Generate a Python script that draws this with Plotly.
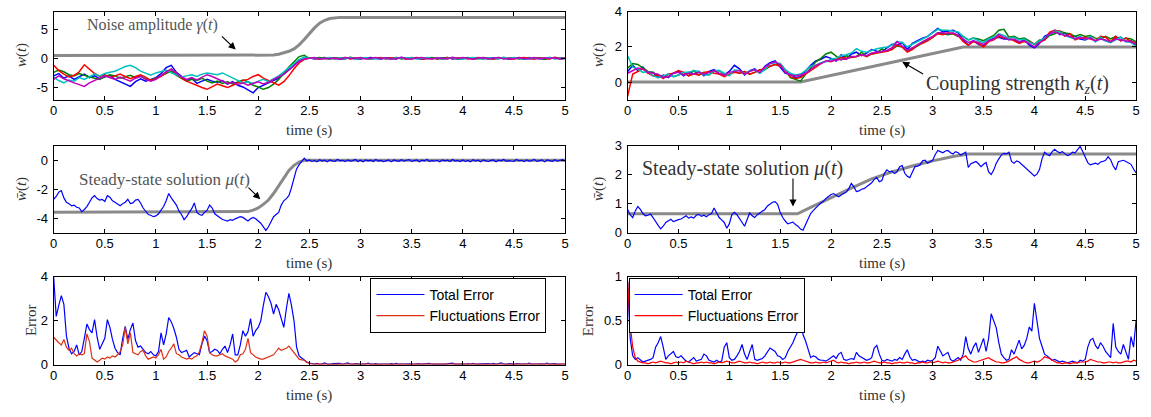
import numpy as np
import plotly.graph_objects as go

# ---------------------------------------------------------------------------
# Sampling steps of the stored trajectories (seconds)
DT_COARSE = 0.05
DT_FINE = 0.025

# ---------------------------------------------------------------------------
# Panel (a): w(t) of five oscillators under a noise-amplitude step
tl_blue = [
    -3.0, -2.6, -3.4, -3.0, -3.6, -3.1, -2.7, -3.3, -3.0, -3.5,
    -3.2, -2.9, -3.6, -4.0, -4.4, -4.8, -4.0, -3.5, -3.9, -3.6,
    -3.3, -2.6, -1.6, -1.2, -2.4, -3.1, -3.8, -3.4, -4.3, -3.9,
    -3.6, -3.9, -4.1, -3.8, -4.4, -4.0, -4.6, -4.9, -5.4, -5.9,
    -5.0, -4.6, -4.1, -3.7, -3.4, -2.7, -2.0, -1.3, -0.5, -0.1,
    0.1, -0.12, 0.05, 0.15, -0.06, 0.1, -0.14, 0.04, 0.12, -0.08,
    -0.1, 0.06, 0.14, -0.05, -0.13, 0.09, 0.02, -0.11, 0.16, -0.04,
    0.12, -0.03, -0.15, 0.07, 0.1, -0.09, 0.05, 0.13, -0.12, 0.03,
    -0.06, 0.11, -0.08, 0.02, 0.15, -0.13, 0.08, -0.02, 0.1, -0.15,
    0.04, 0.14, -0.1, -0.07, 0.09, 0.01, -0.16, 0.12, -0.05, 0.07,
    0.05,
]
tl_green = [
    -2.4, -2.0, -2.3, -2.8, -3.0, -2.6, -2.9, -3.2, -3.4, -3.6,
    -3.1, -2.8, -3.0, -3.4, -3.2, -2.9, -3.3, -3.0, -3.5, -3.7,
    -3.4, -3.0, -2.6, -2.2, -2.9, -3.4, -3.9, -3.6, -3.8, -3.4,
    -3.9, -4.2, -3.9, -4.3, -4.0, -4.4, -4.1, -3.7, -4.0, -4.6,
    -4.9, -5.3, -5.0, -4.4, -3.6, -2.5, -1.5, -0.6, 0.3, 0.5,
    0.0, 0.06, 0.14, -0.05, -0.13, 0.09, 0.02, -0.11, 0.16, -0.04,
    0.12, -0.03, -0.15, 0.07, 0.1, -0.09, 0.05, 0.13, -0.12, 0.03,
    -0.06, 0.11, -0.08, 0.02, 0.15, -0.13, 0.08, -0.02, 0.1, -0.15,
    0.04, 0.14, -0.1, -0.07, 0.09, 0.01, -0.16, 0.12, -0.05, 0.07,
    0.08, -0.12, 0.05, 0.15, -0.06, 0.1, -0.14, 0.04, 0.12, -0.08,
    -0.05,
]
tl_red = [
    -1.2, -2.1, -2.7, -3.2, -2.9, -2.3, -1.1, -1.8, -2.6, -3.1,
    -2.8, -3.3, -3.0, -2.7, -3.1, -3.5, -3.1, -2.8, -3.2, -3.8,
    -3.5, -3.1, -2.4, -1.8, -2.6, -3.4, -3.9, -4.3, -4.6, -5.0,
    -5.3, -4.8, -4.4, -4.7, -5.0, -4.6, -4.2, -3.8, -3.6, -3.1,
    -2.8, -3.4, -3.8, -4.2, -4.6, -4.0, -3.0, -1.8, -0.8, -0.2,
    0.05, -0.03, -0.15, 0.07, 0.1, -0.09, 0.05, 0.13, -0.12, 0.03,
    -0.06, 0.11, -0.08, 0.02, 0.15, -0.13, 0.08, -0.02, 0.1, -0.15,
    0.04, 0.14, -0.1, -0.07, 0.09, 0.01, -0.16, 0.12, -0.05, 0.07,
    0.08, -0.12, 0.05, 0.15, -0.06, 0.1, -0.14, 0.04, 0.12, -0.08,
    -0.1, 0.06, 0.14, -0.05, -0.13, 0.09, 0.02, -0.11, 0.16, -0.04,
    0.1,
]
tl_cyan = [
    -3.2, -3.8, -4.2, -3.7, -3.9, -3.3, -3.6, -3.1, -2.7, -3.0,
    -2.6, -2.4, -2.2, -1.8, -1.4, -1.2, -1.6, -2.2, -2.6, -2.9,
    -2.5, -2.2, -2.0, -2.5, -2.9, -3.2, -3.0, -2.8, -3.1, -2.7,
    -2.5, -2.6, -2.8, -2.5, -2.9, -3.4, -3.8, -4.2, -4.0, -4.3,
    -3.9, -3.6, -4.0, -3.5, -3.0, -2.3, -1.6, -0.9, -0.2, 0.2,
    0.0, 0.11, -0.08, 0.02, 0.15, -0.13, 0.08, -0.02, 0.1, -0.15,
    0.04, 0.14, -0.1, -0.07, 0.09, 0.01, -0.16, 0.12, -0.05, 0.07,
    0.08, -0.12, 0.05, 0.15, -0.06, 0.1, -0.14, 0.04, 0.12, -0.08,
    -0.1, 0.06, 0.14, -0.05, -0.13, 0.09, 0.02, -0.11, 0.16, -0.04,
    0.12, -0.03, -0.15, 0.07, 0.1, -0.09, 0.05, 0.13, -0.12, 0.03,
    -0.02,
]
tl_magenta = [
    -3.6, -3.0, -3.5, -3.9, -4.2, -4.5, -4.8, -4.2, -3.8, -3.4,
    -3.0, -3.3, -3.6, -3.2, -3.5, -3.9, -3.4, -3.1, -3.6, -3.9,
    -3.6, -3.0, -2.3, -1.9, -2.5, -3.2, -3.6, -3.3, -3.7, -3.2,
    -2.8, -3.1, -3.5, -3.9, -4.3, -4.1, -4.5, -4.2, -4.6, -4.3,
    -4.0, -4.4, -4.1, -3.6, -3.2, -2.7, -2.0, -1.2, -0.5, -0.1,
    0.0, 0.14, -0.1, -0.07, 0.09, 0.01, -0.16, 0.12, -0.05, 0.07,
    0.08, -0.12, 0.05, 0.15, -0.06, 0.1, -0.14, 0.04, 0.12, -0.08,
    -0.1, 0.06, 0.14, -0.05, -0.13, 0.09, 0.02, -0.11, 0.16, -0.04,
    0.12, -0.03, -0.15, 0.07, 0.1, -0.09, 0.05, 0.13, -0.12, 0.03,
    -0.06, 0.11, -0.08, 0.02, 0.15, -0.13, 0.08, -0.02, 0.1, -0.15,
    0.0,
]
gamma_t = [0.0, 2.1, 2.15, 2.2, 2.25, 2.3, 2.35, 2.4, 2.45, 2.5, 2.55, 2.6,
           2.65, 2.7, 2.75, 2.8, 5.0]
gamma_v = [0.5, 0.5, 0.55, 0.7, 0.9, 1.2, 1.6, 2.3, 3.2, 4.2, 5.2, 6.0,
           6.5, 6.8, 6.95, 7.0, 7.0]

# ---------------------------------------------------------------------------
# Panel (b): w(t) of five oscillators under a coupling-strength ramp
tr_blue = [
    0.6, 0.95, 0.65, 0.85, 0.5, 0.55, 0.25, 0.4, 0.25, 0.5,
    0.6, 0.35, 0.55, 0.45, 0.6, 0.35, 0.6, 0.7, 0.45, 0.4,
    0.6, 0.95, 0.75, 0.4, 0.65, 0.75, 0.5, 0.9, 1.1, 1.2,
    0.85, 0.5, 0.45, 0.25, 0.3, 0.65, 0.95, 1.2, 1.3, 1.45,
    1.35, 1.2, 1.55, 1.3, 1.6, 1.7, 1.5, 1.65, 1.85, 1.75,
    1.7, 1.95, 2.15, 2.1, 2.25, 1.85, 2.2, 2.35, 2.5, 2.6,
    2.8, 3.05, 2.85, 2.9, 2.95, 2.8, 2.4, 2.1, 2.35, 2.15,
    2.05, 2.35, 2.5, 2.55, 2.45, 2.45, 2.4, 2.25, 2.4, 2.1,
    1.95, 2.2, 2.6, 2.75, 2.95, 2.7, 2.8, 2.55, 2.6, 2.45,
    2.4, 2.55, 2.3, 2.5, 2.35, 2.25, 2.5, 2.55, 2.3, 2.35,
    2.1,
]
tr_green = [
    0.8, 1.05, 1.0, 0.8, 0.6, 0.55, 0.35, 0.3, 0.45, 0.3,
    0.4, 0.55, 0.35, 0.65, 0.4, 0.55, 0.4, 0.6, 0.65, 0.45,
    0.4, 0.6, 0.5, 0.6, 0.45, 0.55, 0.7, 0.7, 0.9, 1.0,
    1.05, 0.7, 0.25, 0.15, 0.05, 0.45, 0.8, 1.15, 1.35, 1.6,
    1.7, 1.45, 1.25, 1.5, 1.4, 1.45, 1.7, 1.45, 1.6, 1.65,
    1.9, 1.75, 1.9, 2.05, 2.0, 1.75, 1.9, 2.05, 2.25, 2.4,
    2.55, 2.8, 2.75, 2.7, 2.75, 2.6, 2.6, 2.4, 2.5, 2.45,
    2.35, 2.5, 2.65, 2.95, 3.0, 2.55, 2.6, 2.45, 2.5, 2.35,
    2.15, 2.4, 2.4, 2.65, 2.75, 2.9, 2.8, 2.75, 2.6, 2.7,
    2.6, 2.65, 2.5, 2.45, 2.6, 2.45, 2.6, 2.35, 2.5, 2.45,
    2.3,
]
tr_red = [
    -0.8, 0.45, 0.6, 0.75, 0.5, 0.35, 0.4, 0.2, 0.45, 0.5,
    0.65, 0.55, 0.35, 0.45, 0.4, 0.55, 0.6, 0.5, 0.45, 0.3,
    0.45, 0.55, 0.5, 0.6, 0.45, 0.55, 0.7, 0.75, 0.9, 1.0,
    0.9, 0.7, 0.3, 0.2, 0.25, 0.45, 0.7, 0.9, 1.05, 1.2,
    1.15, 1.3, 1.4, 1.35, 1.4, 1.45, 1.55, 1.45, 1.6, 1.65,
    1.7, 1.75, 1.85, 2.1, 2.0, 1.7, 1.85, 2.1, 2.2, 2.35,
    2.55, 2.75, 2.7, 2.8, 2.75, 2.65, 2.3, 2.1, 2.3, 2.2,
    2.0, 2.3, 2.4, 2.6, 2.5, 2.55, 2.35, 2.2, 2.3, 2.3,
    2.15, 2.25, 2.4, 2.85, 2.95, 2.9, 2.6, 2.75, 2.4, 2.5,
    2.55, 2.45, 2.35, 2.6, 2.55, 2.3, 2.6, 2.35, 2.5, 2.3,
    2.25,
]
tr_cyan = [
    1.5, 0.85, 0.75, 0.55, 0.6, 0.35, 0.25, 0.35, 0.45, 0.3,
    0.4, 0.55, 0.55, 0.65, 0.6, 0.4, 0.4, 0.65, 0.65, 0.5,
    0.35, 0.7, 0.65, 0.45, 0.65, 0.7, 0.5, 0.7, 1.05, 1.1,
    1.05, 0.7, 0.5, 0.4, 0.45, 0.65, 0.9, 0.95, 1.1, 1.15,
    1.3, 1.35, 1.5, 1.55, 1.65, 1.9, 1.75, 1.7, 1.8, 1.9,
    1.95, 2.0, 2.1, 2.3, 2.25, 2.0, 2.15, 2.3, 2.45, 2.6,
    2.8, 3.0, 2.95, 2.95, 2.9, 2.85, 2.6, 2.4, 2.5, 2.35,
    2.25, 2.45, 2.55, 2.75, 2.65, 2.5, 2.55, 2.4, 2.45, 2.25,
    2.15, 2.35, 2.55, 2.75, 2.9, 2.85, 2.65, 2.55, 2.45, 2.6,
    2.4, 2.6, 2.3, 2.55, 2.35, 2.25, 2.4, 2.55, 2.3, 2.25,
    2.05,
]
tr_magenta = [
    0.5, 0.65, 0.8, 0.75, 0.55, 0.5, 0.45, 0.25, 0.3, 0.5,
    0.55, 0.4, 0.5, 0.45, 0.55, 0.45, 0.55, 0.65, 0.5, 0.4,
    0.55, 0.6, 0.65, 0.45, 0.6, 0.7, 0.55, 0.85, 1.05, 1.15,
    1.0, 0.55, 0.4, 0.35, 0.4, 0.5, 0.75, 0.95, 1.05, 1.2,
    1.2, 1.25, 1.3, 1.3, 1.45, 1.45, 1.55, 1.5, 1.65, 1.7,
    1.75, 1.8, 1.95, 2.3, 2.05, 1.8, 1.95, 2.15, 2.3, 2.45,
    2.6, 2.8, 2.8, 2.75, 2.8, 2.65, 2.45, 2.25, 2.35, 2.25,
    2.15, 2.35, 2.45, 2.7, 2.55, 2.4, 2.45, 2.3, 2.35, 2.15,
    2.0, 2.25, 2.45, 2.75, 2.85, 2.75, 2.65, 2.6, 2.45, 2.55,
    2.45, 2.5, 2.35, 2.45, 2.4, 2.3, 2.45, 2.4, 2.35, 2.3,
    2.15,
]
kappa_t = [0.0, 1.7, 3.3, 5.0]
kappa_v = [0.0, 0.0, 2.0, 2.0]

# ---------------------------------------------------------------------------
# Panel (c): mean field w-bar(t) and steady-state mu(t), noise step
ml_wbar = [
    -2.7, -2.5, -2.2, -2.1, -2.6, -2.9, -3.0, -3.15, -3.1, -3.25,
    -3.3, -3.55, -3.4, -3.2, -2.9, -2.6, -2.45, -2.65, -2.75, -2.7,
    -2.85, -2.45, -2.55, -2.8, -2.9, -3.05, -3.15, -3.0, -2.9, -2.7,
    -3.0, -2.95, -2.75, -2.7, -2.95, -3.3, -3.5, -3.75, -3.8, -3.9,
    -3.85, -3.7, -3.45, -3.2, -2.8, -2.3, -2.6, -2.85, -3.1, -3.5,
    -3.75, -4.1, -3.9, -3.6, -3.35, -2.95, -3.6, -3.75, -3.8, -3.6,
    -3.45, -3.1, -3.3, -3.7, -3.85, -3.95, -4.1, -4.15, -4.2, -4.1,
    -4.15, -4.05, -4.0, -3.9, -3.95, -4.1, -4.2, -4.05, -3.95, -4.05,
    -4.2, -4.35, -4.6, -4.85, -4.6, -4.2, -3.9, -3.75, -3.6, -3.1,
    -2.8, -2.65, -2.45, -1.9, -1.2, -0.6, -0.3, -0.1, 0.15, -0.05,
    0.02, -0.08, -0.01, -0.11, 0.04, -0.05, 0.01, -0.1, 0.03, -0.04,
    -0.07, 0.05, -0.04, 0.0, -0.09, 0.03, -0.06, -0.02, 0.06, -0.08,
    0.0, -0.1, 0.03, -0.04, 0.01, -0.08, 0.05, -0.05, -0.01, -0.09,
    -0.04, 0.03, -0.11, 0.02, -0.02, -0.07, 0.04, -0.06, 0.0, 0.05,
    -0.08, -0.01, 0.02, -0.1, 0.01, -0.04, 0.06, -0.07, -0.02, -0.05,
    0.0, -0.1, 0.03, -0.04, 0.01, -0.08, 0.05, -0.05, -0.01, -0.09,
    0.02, -0.08, -0.01, -0.11, 0.04, -0.05, 0.01, -0.1, 0.03, -0.04,
    -0.08, -0.01, 0.02, -0.1, 0.01, -0.04, 0.06, -0.07, -0.02, -0.05,
    -0.07, 0.05, -0.04, 0.0, -0.09, 0.03, -0.06, -0.02, 0.06, -0.08,
    -0.04, 0.03, -0.11, 0.02, -0.02, -0.07, 0.04, -0.06, 0.0, 0.05,
    -0.05,
]
mu_left_t = [0.0, 1.85, 1.9, 1.95, 2.0, 2.05, 2.1, 2.15, 2.2, 2.25, 2.3,
             2.35, 2.4, 2.45, 5.0]
mu_left_v = [-3.6, -3.6, -3.55, -3.45, -3.3, -3.05, -2.75, -2.3, -1.75,
             -1.2, -0.7, -0.35, -0.12, 0.0, 0.0]

# ---------------------------------------------------------------------------
# Panel (d): mean field w-bar(t) and steady-state mu(t), coupling ramp
mr_wbar = [
    0.80, 0.62, 0.52, 0.75, 0.90, 0.80, 0.66, 0.58, 0.60, 0.64,
    0.52, 0.36, 0.25, 0.13, 0.22, 0.35, 0.40, 0.46, 0.38, 0.42,
    0.45, 0.47, 0.52, 0.58, 0.50, 0.54, 0.50, 0.60, 0.63, 0.56,
    0.60, 0.55, 0.62, 0.66, 0.85, 0.70, 0.52, 0.44, 0.35, 0.15,
    0.30, 0.62, 0.70, 0.62, 0.50, 0.35, 0.22, 0.45, 0.68, 0.58,
    0.52, 0.62, 0.68, 0.74, 0.80, 0.92, 1.00, 1.05, 1.07, 0.98,
    0.70, 0.52, 0.40, 0.30, 0.33, 0.36, 0.28, 0.22, 0.12, 0.08,
    0.28, 0.50, 0.66, 0.76, 0.86, 0.94, 1.02, 1.08, 1.18, 1.25,
    1.32, 1.35, 1.30, 1.24, 1.30, 1.36, 1.40, 1.52, 1.70, 1.58,
    1.42, 1.44, 1.50, 1.52, 1.58, 1.66, 1.72, 1.84, 1.90, 1.76,
    1.80, 2.05, 2.17, 2.10, 2.12, 2.04, 2.10, 2.28, 2.32, 2.05,
    1.95, 1.90, 2.10, 2.28, 2.30, 2.34, 2.48, 2.50, 2.40, 2.44,
    2.50, 2.70, 2.84, 2.80, 2.76, 2.82, 2.84, 2.76, 2.72, 2.80,
    2.76, 2.68, 2.72, 2.78, 2.25, 2.38, 2.42, 2.46, 2.38, 2.28,
    2.36, 2.42, 2.10, 2.01, 2.16, 2.40, 2.55, 2.68, 2.74, 2.72,
    2.78, 2.46, 2.40, 2.48, 2.44, 2.36, 2.30, 2.22, 2.14, 2.06,
    1.96, 2.02, 2.18, 2.55, 2.78, 2.70, 2.66, 2.80, 2.88, 2.80,
    2.76, 2.80, 2.74, 2.66, 2.70, 2.78, 2.76, 2.88, 2.98, 2.80,
    2.60, 2.42, 2.34, 2.38, 2.40, 2.36, 2.44, 2.46, 2.50, 2.62,
    2.52, 2.30, 2.17, 2.45, 2.48, 2.50, 2.46, 2.40, 2.36, 2.20,
    2.06,
]
mu_right_t = [0.0, 1.67, 1.8, 2.0, 2.2, 2.4, 2.6, 2.8, 3.0, 3.2, 3.35, 5.0]
mu_right_v = [0.65, 0.65, 0.87, 1.21, 1.54, 1.86, 2.1, 2.3, 2.48, 2.63, 2.72, 2.72]

# ---------------------------------------------------------------------------
# Panel (e): errors, noise step
bl_total = [
    4.0, 2.2, 2.7, 3.15, 2.75, 1.3, 0.75, 0.5, 0.6, 0.9,
    0.45, 0.6, 1.2, 1.85, 1.6, 1.45, 2.05, 1.25, 0.7, 0.95,
    1.2, 2.05, 1.7, 1.15, 0.75, 0.55, 0.45, 1.2, 1.75, 1.15,
    1.6, 1.9, 1.1, 0.8, 0.85, 0.7, 0.55, 0.5, 0.6, 0.45,
    0.4, 0.6, 1.45, 0.9, 1.4, 2.15, 1.95, 1.65, 1.25, 0.7,
    0.55, 0.6, 0.65, 0.35, 0.45, 0.55, 0.5, 0.45, 0.95, 1.3,
    1.1, 0.55, 0.6, 0.7, 0.65, 0.5, 0.7, 0.85, 0.55, 0.9,
    1.4, 0.45, 0.45, 0.9, 1.55, 1.3, 1.5, 2.1, 1.3, 1.55,
    1.7, 2.0, 2.7, 3.3, 3.1, 2.8, 2.3, 2.75, 2.5, 2.15,
    1.7, 2.55, 3.25, 2.7, 2.0, 0.8, 0.4, 0.3, 0.2, 0.12,
    0.07, 0.05, 0.03, 0.06, 0.02, 0.04, 0.08, 0.03, 0.02, 0.05,
    0.05, 0.03, 0.06, 0.02, 0.04, 0.08, 0.03, 0.02, 0.05, 0.03,
    0.02, 0.04, 0.03, 0.07, 0.02, 0.03, 0.05, 0.02, 0.04, 0.03,
    0.03, 0.02, 0.05, 0.03, 0.06, 0.02, 0.03, 0.04, 0.02, 0.05,
    0.04, 0.02, 0.03, 0.05, 0.02, 0.04, 0.03, 0.06, 0.02, 0.03,
    0.02, 0.05, 0.03, 0.02, 0.04, 0.03, 0.07, 0.02, 0.03, 0.04,
    0.03, 0.02, 0.05, 0.03, 0.06, 0.02, 0.03, 0.04, 0.02, 0.05,
    0.05, 0.03, 0.06, 0.02, 0.04, 0.08, 0.03, 0.02, 0.05, 0.03,
    0.02, 0.05, 0.03, 0.02, 0.04, 0.03, 0.07, 0.02, 0.03, 0.04,
    0.02, 0.04, 0.03, 0.07, 0.02, 0.03, 0.05, 0.02, 0.04, 0.03,
    0.03,
]
bl_fluct = [
    1.25, 1.1, 1.0, 0.9, 1.15, 0.8, 0.65, 0.75, 0.5, 0.4,
    0.5, 0.45, 0.5, 1.4, 1.05, 0.3, 0.2, 0.12, 0.2, 0.3,
    0.25, 0.35, 0.3, 0.4, 0.35, 0.45, 0.6, 0.9, 1.7, 0.95,
    1.45, 0.55, 0.5, 0.45, 0.6, 0.65, 0.4, 0.25, 0.3, 0.35,
    0.3, 0.45, 0.7, 0.25, 0.35, 0.6, 0.75, 0.95, 0.5, 0.45,
    0.35, 0.3, 0.25, 0.3, 0.25, 0.35, 0.4, 0.6, 1.0, 1.55,
    1.3, 0.55, 0.45, 0.4, 0.4, 0.45, 0.5, 0.4, 0.35, 0.3,
    0.25, 0.12, 0.2, 0.45, 0.5, 0.7, 1.2, 0.55, 0.45, 0.35,
    0.3, 0.25, 0.25, 0.3, 0.35, 0.4, 0.45, 0.6, 0.75, 0.65,
    0.7, 0.75, 0.85, 0.7, 0.55, 0.4, 0.25, 0.22, 0.2, 0.1,
    0.05, 0.03, 0.02, 0.03, 0.01, 0.02, 0.03, 0.02, 0.01, 0.02,
    0.02, 0.01, 0.03, 0.02, 0.02, 0.01, 0.02, 0.03, 0.02, 0.01,
    0.01, 0.02, 0.02, 0.03, 0.01, 0.02, 0.01, 0.02, 0.03, 0.02,
    0.02, 0.03, 0.01, 0.02, 0.02, 0.01, 0.03, 0.02, 0.01, 0.02,
    0.01, 0.02, 0.03, 0.01, 0.02, 0.02, 0.01, 0.02, 0.02, 0.03,
    0.02, 0.01, 0.03, 0.02, 0.02, 0.01, 0.02, 0.03, 0.02, 0.01,
    0.01, 0.02, 0.02, 0.03, 0.01, 0.02, 0.01, 0.02, 0.03, 0.02,
    0.02, 0.03, 0.01, 0.02, 0.02, 0.01, 0.03, 0.02, 0.01, 0.02,
    0.01, 0.02, 0.03, 0.01, 0.02, 0.02, 0.01, 0.02, 0.02, 0.03,
    0.01, 0.02, 0.02, 0.03, 0.01, 0.02, 0.01, 0.02, 0.03, 0.02,
    0.02,
]

# ---------------------------------------------------------------------------
# Panel (f): errors, coupling ramp
br_total = [
    0.95, 0.3, 0.1, 0.06, 0.08, 0.05, 0.03, 0.04, 0.05, 0.06,
    0.08, 0.2, 0.25, 0.32, 0.2, 0.06, 0.1, 0.12, 0.15, 0.09,
    0.08, 0.1, 0.07, 0.04, 0.03, 0.06, 0.08, 0.04, 0.05, 0.06,
    0.12, 0.1, 0.05, 0.04, 0.03, 0.05, 0.03, 0.04, 0.2, 0.25,
    0.08, 0.05, 0.06, 0.1, 0.15, 0.23, 0.12, 0.06, 0.15, 0.23,
    0.06, 0.05, 0.06, 0.07, 0.1, 0.14, 0.19, 0.17, 0.15, 0.1,
    0.09, 0.06, 0.08, 0.15, 0.2, 0.25, 0.32, 0.38, 0.5, 0.34,
    0.27, 0.18, 0.08, 0.1, 0.09, 0.06, 0.05, 0.05, 0.04, 0.06,
    0.08, 0.1, 0.07, 0.12, 0.14, 0.06, 0.05, 0.06, 0.07, 0.06,
    0.14, 0.1, 0.08, 0.06, 0.05, 0.06, 0.08, 0.19, 0.22, 0.12,
    0.05, 0.04, 0.06, 0.05, 0.04, 0.06, 0.05, 0.08, 0.06, 0.12,
    0.17, 0.09, 0.05, 0.06, 0.04, 0.03, 0.04, 0.03, 0.05, 0.04,
    0.05, 0.08, 0.21, 0.15, 0.1, 0.12, 0.14, 0.06, 0.04, 0.06,
    0.08, 0.05, 0.12, 0.32, 0.18, 0.12, 0.2, 0.25, 0.14, 0.22,
    0.3, 0.15, 0.3, 0.58, 0.5, 0.42, 0.25, 0.12, 0.08, 0.05,
    0.06, 0.17, 0.12, 0.2, 0.28, 0.18, 0.22, 0.3, 0.43, 0.38,
    0.7, 0.5, 0.3, 0.21, 0.12, 0.1, 0.08, 0.05, 0.06, 0.04,
    0.03, 0.04, 0.03, 0.02, 0.03, 0.04, 0.03, 0.02, 0.05, 0.04,
    0.06, 0.2, 0.28, 0.3, 0.22, 0.18, 0.25, 0.21, 0.15, 0.11,
    0.08, 0.47, 0.2, 0.15, 0.12, 0.23, 0.15, 0.06, 0.32, 0.2,
    0.5,
]
br_fluct = [
    0.95, 0.45, 0.2, 0.08, 0.04, 0.03, 0.02, 0.02, 0.01, 0.02,
    0.03, 0.02, 0.03, 0.04, 0.03, 0.02, 0.02, 0.01, 0.02, 0.03,
    0.02, 0.03, 0.02, 0.04, 0.03, 0.02, 0.01, 0.02, 0.02, 0.03,
    0.02, 0.03, 0.02, 0.02, 0.01, 0.02, 0.03, 0.02, 0.03, 0.04,
    0.03, 0.02, 0.02, 0.03, 0.04, 0.03, 0.02, 0.02, 0.03, 0.02,
    0.02, 0.01, 0.02, 0.03, 0.02, 0.02, 0.03, 0.02, 0.02, 0.03,
    0.02, 0.02, 0.03, 0.02, 0.02, 0.03, 0.04, 0.05, 0.06, 0.05,
    0.04, 0.03, 0.02, 0.02, 0.03, 0.02, 0.02, 0.03, 0.02, 0.03,
    0.04, 0.05, 0.03, 0.02, 0.03, 0.02, 0.02, 0.01, 0.02, 0.02,
    0.03, 0.02, 0.02, 0.03, 0.02, 0.02, 0.03, 0.04, 0.03, 0.02,
    0.02, 0.03, 0.02, 0.02, 0.01, 0.02, 0.02, 0.03, 0.02, 0.02,
    0.03, 0.02, 0.02, 0.01, 0.02, 0.02, 0.03, 0.02, 0.02, 0.03,
    0.02, 0.03, 0.04, 0.03, 0.02, 0.03, 0.02, 0.02, 0.03, 0.04,
    0.05, 0.07, 0.09, 0.1, 0.06, 0.04, 0.03, 0.03, 0.04, 0.05,
    0.06, 0.07, 0.08, 0.06, 0.04, 0.03, 0.03, 0.02, 0.02, 0.03,
    0.04, 0.06, 0.08, 0.09, 0.06, 0.04, 0.03, 0.02, 0.02, 0.03,
    0.04, 0.03, 0.04, 0.06, 0.09, 0.08, 0.07, 0.05, 0.03, 0.02,
    0.02, 0.01, 0.02, 0.02, 0.01, 0.02, 0.02, 0.02, 0.03, 0.03,
    0.03, 0.04, 0.06, 0.05, 0.04, 0.03, 0.03, 0.02, 0.02, 0.03,
    0.03, 0.02, 0.03, 0.02, 0.02, 0.03, 0.04, 0.04, 0.03, 0.05,
    0.04,
]

# ---------------------------------------------------------------------------
# Tick labels
time_ticks = [0, 0.5, 1, 1.5, 2, 2.5, 3, 3.5, 4, 4.5, 5]
time_labels = ["0", "0.5", "1", "1.5", "2", "2.5", "3", "3.5", "4", "4.5", "5"]
ticks_a, labels_a = [-5, 0, 5], ["-5", "0", "5"]
ticks_b, labels_b = [0, 2, 4], ["0", "2", "4"]
ticks_c, labels_c = [-4, -2, 0], ["-4", "-2", "0"]
ticks_d, labels_d = [0, 1, 2, 3], ["0", "1", "2", "3"]
ticks_e, labels_e = [0, 2, 4], ["0", "2", "4"]
ticks_f, labels_f = [0, 0.5, 1], ["0", "0.5", "1"]

for arr, n in [(tl_blue, 101), (tl_green, 101), (tl_red, 101), (tl_cyan, 101),
               (tl_magenta, 101), (tr_blue, 101), (tr_green, 101), (tr_red, 101),
               (tr_cyan, 101), (tr_magenta, 101), (ml_wbar, 201), (mr_wbar, 201),
               (bl_total, 201), (bl_fluct, 201), (br_total, 201), (br_fluct, 201)]:
    assert len(arr) == n, (len(arr), n)


def time_of(values, dt):
    return dt * np.arange(len(values))


# ---------------------------------------------------------------------------
# Colours (MATLAB default line colours)
BLUE = "#0000ff"
GREEN = "#008000"
RED = "#ff0000"
CYAN = "#00bfbf"
MAGENTA = "#bf00bf"
GRAY = "#8a8a8a"
ORANGE_RED = "#dc3214"

W, H = 1151, 417
SERIF = "Liberation Serif"
SANS = "Liberation Sans"

COLS = {"L": (50, 565), "R": (628, 1140)}
ROWS = {"top": (5, 96), "mid": (144, 234), "bot": (280, 371)}

panels = {
    1: ("L", "top", [-7.05, 7.95], ticks_a, labels_a),
    2: ("R", "top", [-1, 4], ticks_b, labels_b),
    3: ("L", "mid", [-5, 1], ticks_c, labels_c),
    4: ("R", "mid", [0, 3], ticks_d, labels_d),
    5: ("L", "bot", [0, 4], ticks_e, labels_e),
    6: ("R", "bot", [0, 1], ticks_f, labels_f),
}

fig = go.Figure()


def ax_names(n):
    return ("x" if n == 1 else f"x{n}", "y" if n == 1 else f"y{n}")


def add_line(n, x, y, color, width, name=None, legend=None):
    xa, ya = ax_names(n)
    fig.add_trace(go.Scatter(
        x=x, y=y, mode="lines", xaxis=xa, yaxis=ya,
        line=dict(color=color, width=width),
        name=name, showlegend=legend is not None,
        legend=legend if legend is not None else "legend",
        hoverinfo="skip",
    ))


# (a)
add_line(1, gamma_t, gamma_v, GRAY, 3)
for vals, col in [(tl_blue, BLUE), (tl_green, GREEN), (tl_red, RED),
                  (tl_cyan, CYAN), (tl_magenta, MAGENTA)]:
    add_line(1, time_of(vals, DT_COARSE), vals, col, 1.5)
# (b)
add_line(2, kappa_t, kappa_v, GRAY, 3)
for vals, col in [(tr_blue, BLUE), (tr_green, GREEN), (tr_red, RED),
                  (tr_cyan, CYAN), (tr_magenta, MAGENTA)]:
    add_line(2, time_of(vals, DT_COARSE), vals, col, 1.5)
# (c)
add_line(3, mu_left_t, mu_left_v, GRAY, 3)
add_line(3, time_of(ml_wbar, DT_FINE), ml_wbar, BLUE, 1.2)
# (d)
add_line(4, mu_right_t, mu_right_v, GRAY, 3)
add_line(4, time_of(mr_wbar, DT_FINE), mr_wbar, BLUE, 1.2)
# (e)
add_line(5, time_of(bl_total, DT_FINE), bl_total, BLUE, 1.2, "Total Error", "legend")
add_line(5, time_of(bl_fluct, DT_FINE), bl_fluct, ORANGE_RED, 1.2, "Fluctuations Error", "legend")
# (f)
add_line(6, time_of(br_total, DT_FINE), br_total, BLUE, 1.2, "Total Error", "legend2")
add_line(6, time_of(br_fluct, DT_FINE), br_fluct, RED, 1.2, "Fluctuations Error", "legend2")

layout = dict(
    width=W, height=H, margin=dict(l=0, r=0, t=0, b=0),
    paper_bgcolor="white", plot_bgcolor="white",
    font=dict(family=SANS, size=13, color="black"),
)
axis_common = dict(
    showline=True, linecolor="black", linewidth=1, mirror="allticks",
    ticks="inside", ticklen=4, tickcolor="black", tickwidth=1,
    showgrid=False, zeroline=False,
    tickfont=dict(family=SANS, size=13, color="black"),
)
for n, (col, row, yrange, yt, yl) in panels.items():
    x0, x1 = COLS[col]
    top, bot = ROWS[row]
    xname = "xaxis" if n == 1 else f"xaxis{n}"
    yname = "yaxis" if n == 1 else f"yaxis{n}"
    xa, ya = ax_names(n)
    layout[xname] = dict(axis_common, domain=[x0 / W, x1 / W], anchor=ya,
                         range=[0, 5], tickvals=time_ticks, ticktext=time_labels,
                         ticklabelstandoff=-1)
    layout[yname] = dict(axis_common, domain=[1 - bot / H, 1 - top / H], anchor=xa,
                         range=yrange, tickvals=yt, ticktext=yl,
                         ticklabelstandoff=2)

legend_style = dict(
    bgcolor="white", bordercolor="black", borderwidth=1,
    font=dict(family=SANS, size=14, color="black"),
    xanchor="left", yanchor="top", itemwidth=48, tracegroupgap=0,
    orientation="v",
)
layout["legend"] = dict(legend_style, x=369 / W, y=1 - 281 / H)
layout["legend2"] = dict(legend_style, x=629 / W, y=1 - 281 / H)

annotations = []
# axis titles
x_title_rows = {"top": 128, "mid": 266, "bot": 403}
for n, (col, row, _, _, _) in panels.items():
    x0, x1 = COLS[col]
    annotations.append(dict(
        text="time (s)", xref="paper", yref="paper",
        x=(x0 + x1) / 2 / W, y=1 - x_title_rows[row] / H,
        showarrow=False, font=dict(family=SERIF, size=15, color="#333333"),
        xanchor="center", yanchor="middle"))

y_titles = [
    ("<i>w</i>(<i>t</i>)", 17, 50),
    ("<i>w</i>(<i>t</i>)", 598, 50),
    ("<i>w̄</i>(<i>t</i>)", 17, 189),
    ("<i>w̄</i>(<i>t</i>)", 598, 189),
    ("Error", 27, 325),
    ("Error", 588, 325),
]
for txt, px, py in y_titles:
    annotations.append(dict(
        text=txt, xref="paper", yref="paper", x=px / W, y=1 - py / H,
        textangle=-90, showarrow=False,
        font=dict(family=SERIF, size=15, color="#333333"),
        xanchor="center", yanchor="middle"))

# callouts with arrows
callouts = [
    # (panel, text, text_t, text_v, size, color, head_t, head_v, tail_t, tail_v)
    (1, "Noise amplitude <i>γ</i>(<i>t</i>)", 0.97, 5.7, 16, "#555555",
     1.78, 1.5, 1.63, 4.0),
    (2, "Coupling strength <i>κ</i><sub><i>z</i></sub>(<i>t</i>)", 3.83, -0.15, 20, "#333333",
     2.70, 1.15, 2.92, 0.4),
    (3, "Steady-state solution <i>μ</i>(<i>t</i>)", 1.08, -1.3, 17, "#555555",
     2.02, -2.7, 1.89, -1.78),
    (4, "Steady-state solution <i>μ</i>(<i>t</i>)", 1.13, 2.23, 20, "#333333",
     1.626, 0.9, 1.626, 1.92),
]
for n, txt, tt, tv, size, color, ht, hv, at, av in callouts:
    xa, ya = ax_names(n)
    annotations.append(dict(
        text=txt, xref=xa, yref=ya, x=tt, y=tv, showarrow=False,
        font=dict(family=SERIF, size=size, color=color),
        xanchor="center", yanchor="middle"))
    annotations.append(dict(
        text="", xref=xa, yref=ya, x=ht, y=hv, axref=xa, ayref=ya, ax=at, ay=av,
        showarrow=True, arrowhead=2, arrowsize=1.3, arrowwidth=1.1,
        arrowcolor="black"))

layout["annotations"] = annotations
fig.update_layout(**layout)
fig.write_html("out.html")
